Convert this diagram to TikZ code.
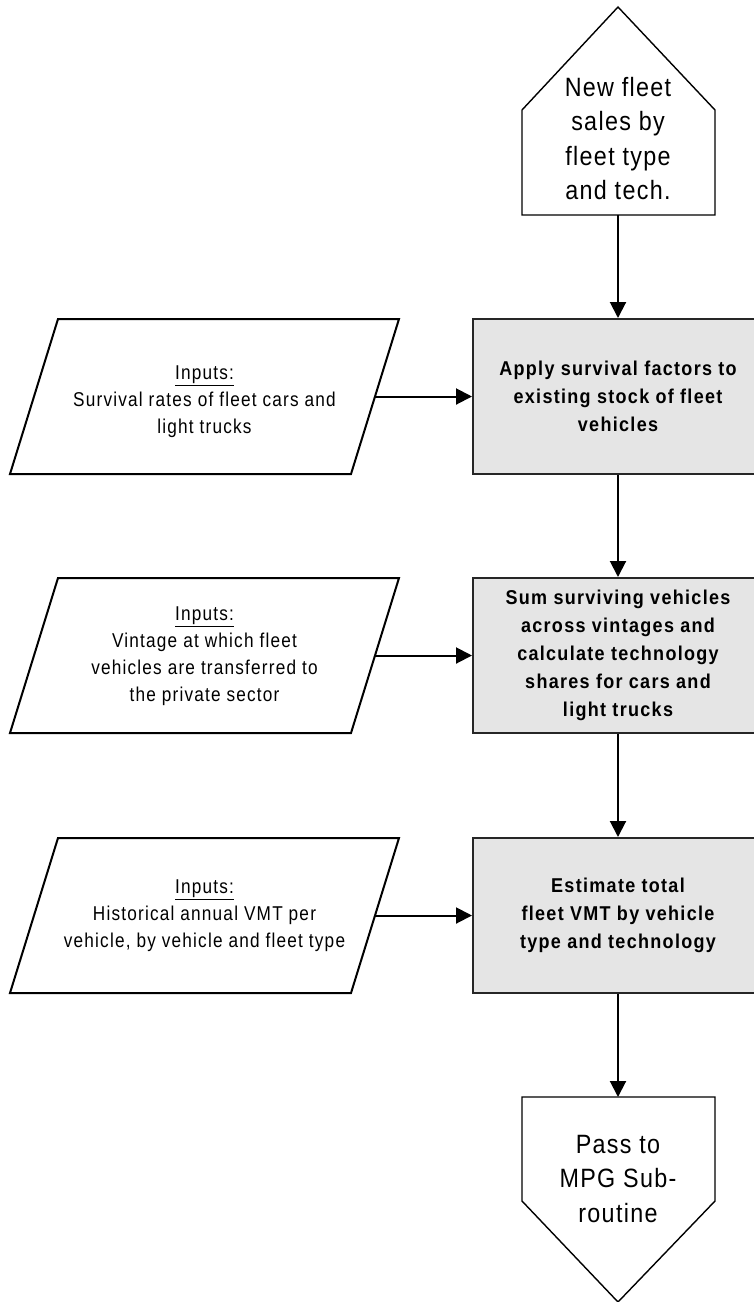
\documentclass[tikz,border=0pt]{standalone}
\usepackage{fontspec}
\setmainfont{Liberation Sans}
\newfontfamily\regf[FakeStretch=0.86,LetterSpace=6]{Liberation Sans}
\newfontfamily\boxf[FakeStretch=0.9,LetterSpace=6.5]{Liberation Sans}
\newfontfamily\pentf[FakeStretch=0.88,LetterSpace=5]{Liberation Sans}
\usetikzlibrary{arrows.meta}
\definecolor{boxgray}{RGB}{229,229,229}
\tikzset{
  procbox/.style={draw=black!85, line width=2pt, fill=boxgray, minimum width=290pt, minimum height=155pt, inner sep=0pt, align=center, font={\boxf\bfseries\fontsize{20}{28}\selectfont}},
  inbox/.style={draw=black, line width=2pt, line join=miter},
  intext/.style={anchor=north, inner sep=0pt, align=center, font={\regf\fontsize{20}{27}\selectfont}},
  penta/.style={draw=black, line width=1.4pt},
  penttext/.style={anchor=north, inner sep=0pt, align=center, font={\pentf\fontsize{26.5}{34.5}\selectfont}},
  flow/.style={line width=2pt, -{Triangle[length=16pt,width=16pt]}},
}
\begin{document}
\begin{tikzpicture}[x=1pt,y=-1pt]
\useasboundingbox (0,0) rectangle (753,1302);
% top off-page connector
\draw[penta] (522,215) -- (522,110) -- (618,7) -- (715,110) -- (715,215) -- cycle;
\coordinate (newout) at (618,215);
\node[penttext] (new) at (618,77) {New fleet\\sales by\\fleet type\\and tech.};
% process boxes
\node[procbox] (apply) at (618,396.5) {Apply survival factors to\\existing stock of fleet\\vehicles};
\node[procbox] (sum) at (618,655.5) {Sum surviving vehicles\\across vintages and\\calculate technology\\shares for cars and\\light trucks};
\node[procbox] (est) at (618,915.5) {Estimate total\\fleet VMT by vehicle\\type and technology};
% input parallelograms
\draw[inbox] (58,319) -- (399,319) -- (351,474) -- (10,474) -- cycle;
\coordinate (in1out) at (375,396.5);
\node[intext] (in1) at (204.5,366) {\underline{Inputs:}\\Survival rates of fleet cars and\\light trucks};
\draw[inbox] (58,578) -- (399,578) -- (351,733) -- (10,733) -- cycle;
\coordinate (in2out) at (375,655.5);
\node[intext] (in2) at (204.5,607) {\underline{Inputs:}\\Vintage at which fleet\\vehicles are transferred to\\the private sector};
\draw[inbox] (58,838) -- (399,838) -- (351,993) -- (10,993) -- cycle;
\coordinate (in3out) at (375,915.5);
\node[intext] (in3) at (204.5,880) {\underline{Inputs:}\\Historical annual VMT per\\vehicle, by vehicle and fleet type};
% bottom off-page connector
\draw[penta] (522,1097) -- (715,1097) -- (715,1201) -- (618,1302) -- (522,1201) -- cycle;
\coordinate (passin) at (618,1097);
\node[penttext] (pass) at (618,1135) {Pass to\\MPG Sub-\\routine};
% connectors
\draw[flow] (newout) -- (apply.north);
\draw[flow] (apply.south) -- (sum.north);
\draw[flow] (sum.south) -- (est.north);
\draw[flow] (est.south) -- (passin);
\draw[flow] (in1out) -- (apply.west);
\draw[flow] (in2out) -- (sum.west);
\draw[flow] (in3out) -- (est.west);
\end{tikzpicture}
\end{document}
